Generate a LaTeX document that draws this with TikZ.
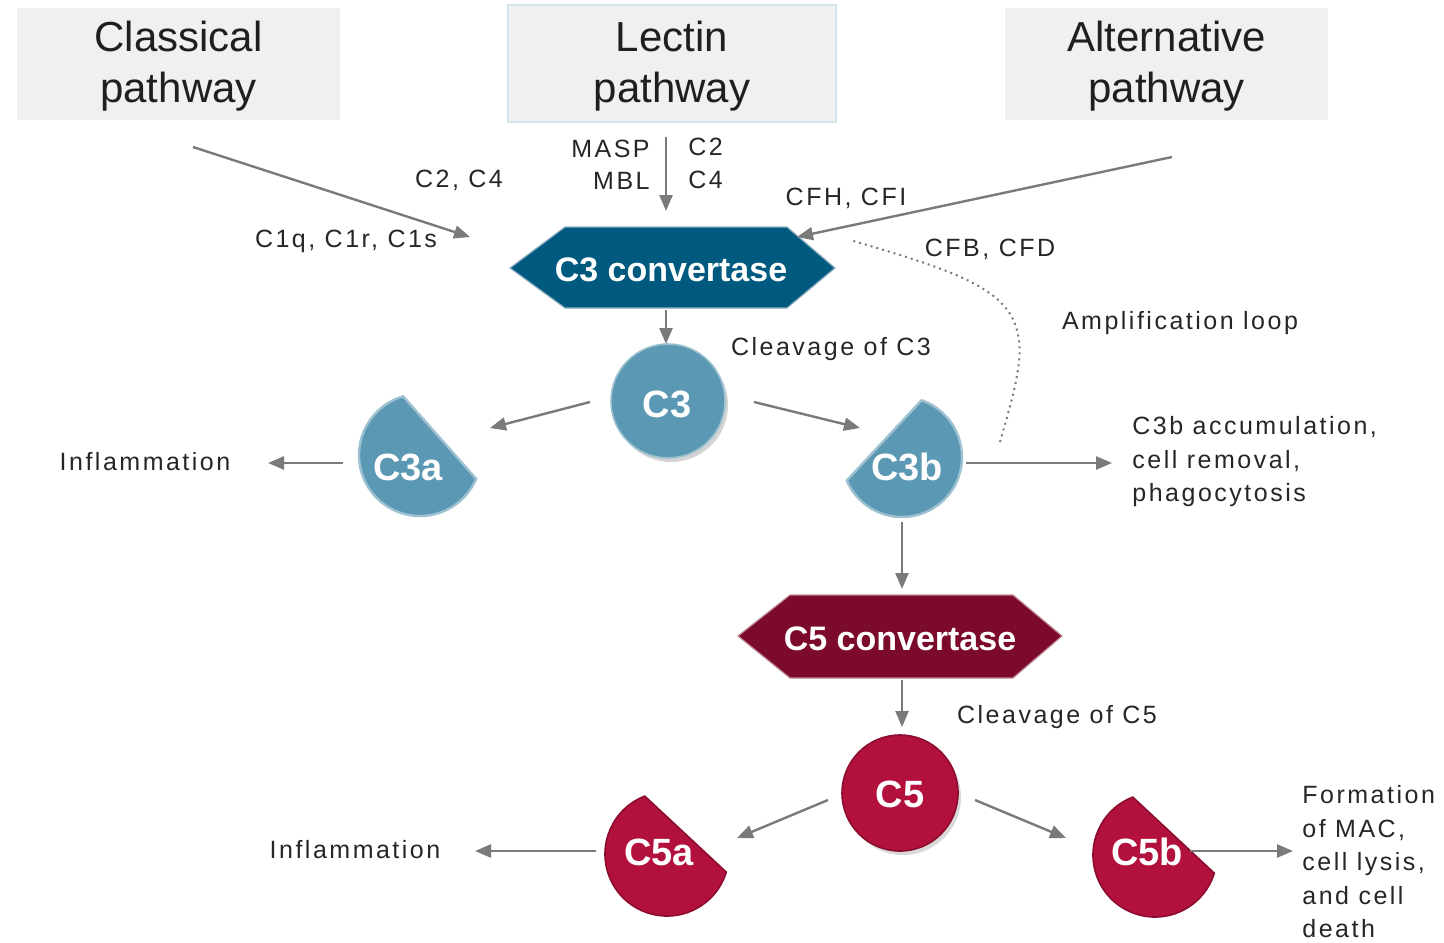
\documentclass[tikz,border=0pt]{standalone}
\usepackage{fontspec}
\setmainfont{Liberation Sans}
\newfontfamily\lblfont[LetterSpace=10]{Liberation Sans}
\usetikzlibrary{arrows.meta,shadows}

\definecolor{arrowgray}{HTML}{7A7A7A}
\definecolor{boxgray}{HTML}{F0F0F0}
\definecolor{lectinfill}{HTML}{EFF1F1}
\definecolor{lectinedge}{HTML}{D3E4EA}
\definecolor{convblue}{HTML}{005A7F}
\definecolor{convblueedge}{HTML}{8FAFC0}
\definecolor{cthreeblue}{HTML}{5B98B3}
\definecolor{cthreeedge}{HTML}{9EC1D1}
\definecolor{convred}{HTML}{7B0A2B}
\definecolor{convrededge}{HTML}{C08A98}
\definecolor{cfivered}{HTML}{B3113D}
\definecolor{cfiveedge}{HTML}{8C0C2F}
\definecolor{txtdark}{HTML}{262626}

\tikzset{
  pathbox/.style={fill=boxgray, inner sep=0pt, minimum width=161.5pt, minimum height=56pt,
    font=\fontsize{21}{25.5}\selectfont, text=black!88, align=center},
  flow/.style={draw=arrowgray, line width=1.2pt, -{Triangle[length=8pt,width=6.5pt]}},
  lbl/.style={font=\lblfont\fontsize{12.5}{16.75}\selectfont, text=txtdark, inner sep=0pt},
  lblleft/.style={lbl, align=left, anchor=west},
  shapetext/.style={text=white, inner sep=0pt, font=\fontsize{19}{22}\selectfont\bfseries},
  convtext/.style={text=white, inner sep=0pt, font=\fontsize{17}{20}\selectfont\bfseries},
  bluedisc/.style={circle, fill=cthreeblue, draw=cthreeedge, line width=0.8pt, minimum size=57pt,
    drop shadow={shadow xshift=1.5pt, shadow yshift=-2pt, opacity=0.35}},
  reddisc/.style={circle, fill=cfivered, draw=cfiveedge, line width=0.8pt, minimum size=58pt,
    drop shadow={shadow xshift=1.5pt, shadow yshift=-2pt, opacity=0.3}},
  bluesector/.style={fill=cthreeblue, draw=cthreeedge, line width=1.2pt},
  redsector/.style={fill=cfivered, draw=cfiveedge, line width=0.8pt},
  loop/.style={draw=arrowgray, dotted, line width=1pt}
}

\begin{document}
\begin{tikzpicture}[x=0.5pt, y=-0.5pt]
\useasboundingbox (0,0) rectangle (1444,942);

% --- the three activation pathways ---
\path[fill=boxgray] (17,8) rectangle (340,120);
\node[pathbox, fill=none] (classical) at (178.5,66) {Classical\\pathway};
\path[fill=lectinfill, draw=lectinedge, line width=1pt] (508,5) rectangle (836,122);
\node[pathbox, fill=none] (lectin) at (672,66) {Lectin\\pathway};
\path[fill=boxgray] (1005,8) rectangle (1328,120);
\node[pathbox, fill=none] (alternative) at (1166.5,66) {Alternative\\pathway};

% --- C3 convertase ---
\fill[convblue, draw=convblueedge, line width=0.6pt]
  (510,268) -- (565,227) -- (787,227) -- (835,268) -- (787,308) -- (565,308) -- cycle;
\node[convtext] (c3conv) at (671,270) {C3 convertase};

% pathway inputs
\coordinate (clsStart) at (193,147);
\coordinate (clsEnd) at (470,237);
\coordinate (lecStart) at (666,137);
\coordinate (lecEnd) at (666,211);
\coordinate (altStart) at (1172,157);
\coordinate (altEnd) at (797,237);
\draw[flow] (clsStart) -- (clsEnd);
\draw[flow] (lecStart) -- (lecEnd);
\draw[flow] (altStart) -- (altEnd);

\node[lbl] (lblC2C4) at (459,180) {C2, C4};
\node[lbl] (lblC1) at (346,241) {C1q, C1r, C1s};
\node[lbl, anchor=east] (lblMASP) at (650,149) {MASP};
\node[lbl, anchor=east] (lblMBL) at (650,181) {MBL};
\node[lbl, anchor=west] (lblC2) at (688,147) {C2};
\node[lbl, anchor=west] (lblC4) at (688,180) {C4};
\node[lbl] (lblCFH) at (846,198) {CFH, CFI};
\node[lbl] (lblCFB) at (990,249) {CFB, CFD};
\node[lbl] (lblAmp) at (1180,323) {Amplification loop};

% --- cleavage of C3 ---
\node[bluedisc] (c3) at (668,401) {};
\node[shapetext] (c3txt) at (667,404) {C3};
\node[lbl] (lblCleave3) at (831,349) {Cleavage of C3};
\coordinate (c3in) at (666,310);
\coordinate (c3top) at (666,344);
\draw[flow] (c3in) -- (c3top);

% C3a fragment
\path[bluesector] (420,455) ++(-106:61) arc[start angle=-106, end angle=-337, radius=61] -- cycle;
\node[shapetext] (c3a) at (408,467) {C3a};
% C3b fragment
\path[bluesector] (902,457) ++(-71:60) arc[start angle=-71, end angle=157, radius=60] -- cycle;
\node[shapetext] (c3b) at (907,467) {C3b};

\coordinate (c3L) at (590,402);
\coordinate (c3aIn) at (490,428);
\coordinate (c3R) at (754,402);
\coordinate (c3bIn) at (860,428);
\draw[flow] (c3L) -- (c3aIn);
\draw[flow] (c3R) -- (c3bIn);

\node[lbl] (infl1) at (145,462) {Inflammation};
\coordinate (c3aOut) at (343,463);
\coordinate (infl1In) at (268,463);
\draw[flow] (c3aOut) -- (infl1In);

\node[lblleft] (accum) at (1132,462)
  {C3b accumulation,\\cell removal,\\phagocytosis};
\coordinate (c3bOut) at (966,463);
\coordinate (accumIn) at (1112,463);
\draw[flow] (c3bOut) -- (accumIn);

% amplification loop back to the C3 convertase
\coordinate (loopStart) at (1000,442);
\coordinate (loopEnd) at (850,240);
\draw[loop] (loopStart) .. controls (1012,400) and (1024,360) .. (1018,335)
  .. controls (1010,290) and (960,272) .. (loopEnd);

% --- C5 convertase ---
\coordinate (c3bDown) at (902,522);
\coordinate (c5convIn) at (902,589);
\draw[flow] (c3bDown) -- (c5convIn);
\fill[convred, draw=convrededge, line width=0.6pt]
  (738,636) -- (790,595) -- (1013,595) -- (1062,636) -- (1013,678) -- (790,678) -- cycle;
\node[convtext] (c5conv) at (900,639) {C5 convertase};

% --- cleavage of C5 ---
\coordinate (c5in) at (902,680);
\coordinate (c5top) at (902,727);
\draw[flow] (c5in) -- (c5top);
\node[reddisc] (c5) at (900,793) {};
\node[shapetext] (c5txt) at (900,794) {C5};
\node[lbl] (lblCleave5) at (1057,717) {Cleavage of C5};

\path[redsector] (667,854) ++(-111:62) arc[start angle=-111, end angle=-343, radius=62] -- cycle;
\node[shapetext] (c5a) at (659,852) {C5a};
\path[redsector] (1155,855) ++(-111:62) arc[start angle=-111, end angle=-343, radius=62] -- cycle;
\node[shapetext] (c5b) at (1147,852) {C5b};

\coordinate (c5L) at (828,800);
\coordinate (c5aIn) at (737,838);
\coordinate (c5R) at (975,800);
\coordinate (c5bIn) at (1066,838);
\draw[flow] (c5L) -- (c5aIn);
\draw[flow] (c5R) -- (c5bIn);

\node[lbl] (infl2) at (355,850) {Inflammation};
\coordinate (c5aOut) at (596,851);
\coordinate (infl2In) at (475,851);
\draw[flow] (c5aOut) -- (infl2In);

\node[lblleft] (mac) at (1302,862)
  {Formation\\of MAC,\\cell lysis,\\and cell\\death};
\coordinate (c5bOut) at (1190,851);
\coordinate (macIn) at (1293,851);
\draw[flow] (c5bOut) -- (macIn);
\end{tikzpicture}
\end{document}
